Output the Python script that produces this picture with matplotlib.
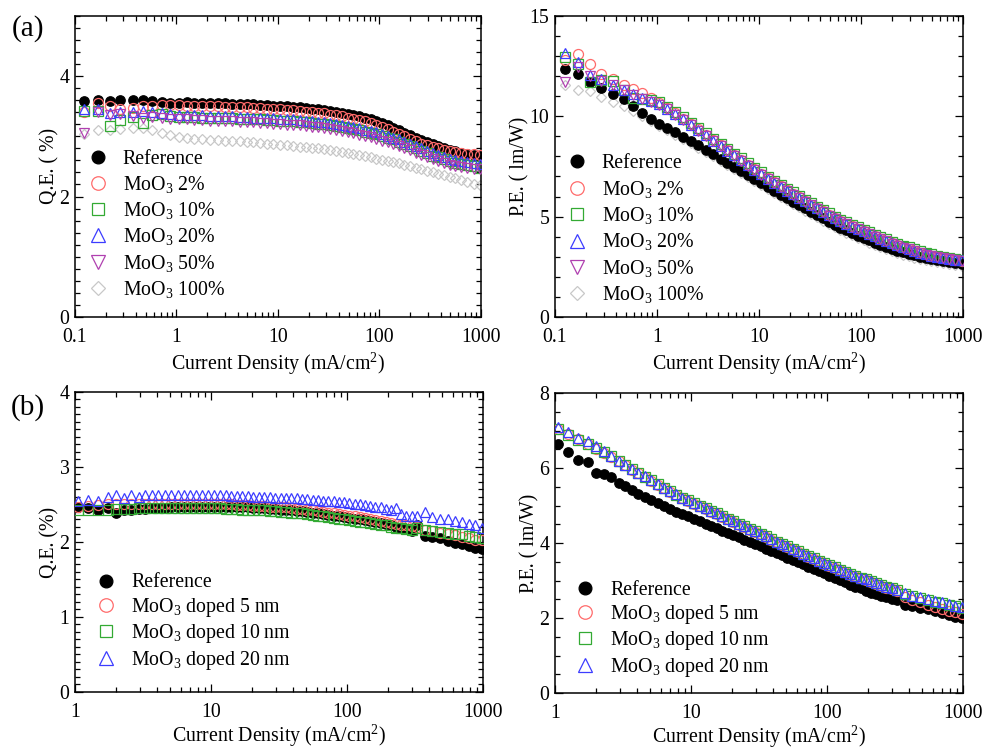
import matplotlib.pyplot as plt
from matplotlib.ticker import MultipleLocator, LogLocator, NullFormatter

plt.rcParams['font.family'] = ['Liberation Serif', 'DejaVu Serif']
plt.rcParams['mathtext.fontset'] = 'custom'
plt.rcParams['mathtext.rm'] = 'Liberation Serif'
plt.rcParams['mathtext.it'] = 'Liberation Serif:italic'
plt.rcParams['mathtext.bf'] = 'Liberation Serif:bold'

# (a) MoO3 doping concentration series, current density in mA/cm^2
j_a = [0.124, 0.167, 0.22, 0.28, 0.37, 0.47, 0.58, 0.72, 0.87, 1.05,
       1.26, 1.5, 1.8, 2.15, 2.55, 3.0, 3.55, 4.2, 4.9, 5.7,
       6.7, 7.8, 9.0, 10.5, 12.2, 14.1, 16.3, 18.8, 21.6, 24.8,
       28.5, 32.6, 37.3, 42.6, 48.6, 55.4, 63, 72, 82, 93,
       106, 120, 136, 155, 176, 200, 227, 258, 293, 333,
       378, 430, 490, 560, 640, 735, 845, 970]

qe_a_ref = [3.58, 3.60, 3.59, 3.60, 3.61, 3.61, 3.59, 3.57, 3.56, 3.56,
            3.57, 3.56, 3.56, 3.55, 3.55, 3.55, 3.54, 3.54, 3.53, 3.53,
            3.52, 3.52, 3.51, 3.50, 3.50, 3.49, 3.48, 3.47, 3.46, 3.45,
            3.44, 3.42, 3.41, 3.39, 3.37, 3.35, 3.33, 3.31, 3.28, 3.25,
            3.22, 3.18, 3.14, 3.10, 3.06, 3.02, 2.98, 2.94, 2.90, 2.87,
            2.84, 2.81, 2.78, 2.75, 2.73, 2.71, 2.69, 2.68]
qe_a_2 = [3.40, 3.56, 3.50, 3.45, 3.47, 3.50, 3.50, 3.52, 3.52, 3.52,
          3.51, 3.51, 3.51, 3.50, 3.50, 3.49, 3.49, 3.48, 3.48, 3.47,
          3.47, 3.46, 3.45, 3.45, 3.44, 3.43, 3.42, 3.41, 3.40, 3.39,
          3.38, 3.36, 3.35, 3.33, 3.31, 3.29, 3.27, 3.25, 3.22, 3.19,
          3.16, 3.12, 3.08, 3.04, 3.00, 2.96, 2.92, 2.88, 2.85, 2.82,
          2.80, 2.78, 2.76, 2.74, 2.72, 2.71, 2.70, 2.69]
qe_a_10 = [3.42, 3.42, 3.17, 3.27, 3.32, 3.22, 3.36, 3.37, 3.33, 3.32,
           3.32, 3.32, 3.31, 3.31, 3.31, 3.30, 3.30, 3.29, 3.29, 3.28,
           3.28, 3.27, 3.27, 3.26, 3.25, 3.25, 3.24, 3.23, 3.22, 3.21,
           3.20, 3.19, 3.17, 3.16, 3.14, 3.12, 3.10, 3.08, 3.06, 3.04,
           3.01, 2.98, 2.95, 2.91, 2.88, 2.84, 2.80, 2.76, 2.72, 2.68,
           2.65, 2.62, 2.59, 2.56, 2.54, 2.52, 2.50, 2.48]
qe_a_20 = [3.45, 3.45, 3.38, 3.40, 3.41, 3.42, 3.40, 3.38, 3.37, 3.36,
           3.36, 3.35, 3.35, 3.34, 3.34, 3.33, 3.33, 3.32, 3.32, 3.31,
           3.31, 3.30, 3.30, 3.29, 3.28, 3.28, 3.27, 3.26, 3.25, 3.24,
           3.23, 3.22, 3.20, 3.19, 3.17, 3.15, 3.13, 3.11, 3.09, 3.07,
           3.04, 3.01, 2.98, 2.95, 2.91, 2.88, 2.84, 2.80, 2.76, 2.72,
           2.69, 2.66, 2.63, 2.61, 2.59, 2.57, 2.55, 2.54]
qe_a_50 = [3.06, 3.40, 3.35, 3.37, 3.33, 3.30, 3.32, 3.30, 3.29, 3.28,
           3.28, 3.27, 3.27, 3.26, 3.26, 3.25, 3.25, 3.24, 3.24, 3.23,
           3.22, 3.22, 3.21, 3.20, 3.19, 3.19, 3.18, 3.17, 3.16, 3.15,
           3.13, 3.12, 3.10, 3.09, 3.07, 3.05, 3.03, 3.01, 2.99, 2.96,
           2.93, 2.90, 2.87, 2.84, 2.80, 2.77, 2.73, 2.69, 2.65, 2.62,
           2.59, 2.56, 2.53, 2.51, 2.49, 2.47, 2.46, 2.45]
qe_a_100 = [3.04, 3.10, 3.10, 3.12, 3.14, 3.13, 3.10, 3.05, 3.02, 2.99,
            2.97, 2.96, 2.95, 2.94, 2.94, 2.93, 2.93, 2.92, 2.91, 2.90,
            2.89, 2.88, 2.87, 2.86, 2.85, 2.84, 2.83, 2.82, 2.81, 2.80,
            2.79, 2.77, 2.76, 2.74, 2.73, 2.71, 2.69, 2.67, 2.65, 2.63,
            2.61, 2.59, 2.57, 2.55, 2.52, 2.50, 2.48, 2.46, 2.43, 2.41,
            2.38, 2.36, 2.33, 2.30, 2.27, 2.24, 2.21, 2.19]

pe_a_ref = [12.36, 12.1, 11.7, 11.4, 11.1, 10.84, 10.5, 10.15, 9.85,
            9.62, 9.41, 9.20, 8.98, 8.76, 8.55, 8.33, 8.11, 7.89, 7.68,
            7.48, 7.27, 7.07, 6.87, 6.66, 6.46, 6.28, 6.10, 5.92, 5.75,
            5.58, 5.41, 5.24, 5.07, 4.91, 4.75, 4.59, 4.45, 4.31, 4.18,
            4.05, 3.93, 3.81, 3.70, 3.59, 3.49, 3.39, 3.30, 3.22, 3.14,
            3.07, 3.00, 2.94, 2.88, 2.83, 2.78, 2.73, 2.69, 2.65]
pe_a_2 = [12.8, 13.1, 12.6, 12.1, 11.85, 11.55, 11.35, 11.15, 10.9,
          10.66, 10.41, 10.15, 9.88, 9.61, 9.35, 9.09, 8.83, 8.57, 8.32,
          8.08, 7.83, 7.59, 7.36, 7.13, 6.90, 6.70, 6.51, 6.32, 6.14,
          5.96, 5.78, 5.60, 5.43, 5.26, 5.09, 4.93, 4.78, 4.64, 4.51,
          4.38, 4.26, 4.13, 4.01, 3.89, 3.78, 3.67, 3.56, 3.46, 3.37,
          3.28, 3.20, 3.12, 3.05, 2.99, 2.93, 2.88, 2.84, 2.80]
pe_a_10 = [12.97, 12.6, 11.7, 11.8, 11.75, 11.3, 10.9, 10.85, 10.8,
           10.72, 10.47, 10.21, 9.94, 9.67, 9.41, 9.15, 8.89, 8.63, 8.39,
           8.14, 7.90, 7.66, 7.43, 7.20, 6.97, 6.77, 6.58, 6.39, 6.21,
           6.03, 5.85, 5.67, 5.50, 5.33, 5.16, 5.00, 4.85, 4.71, 4.58,
           4.46, 4.34, 4.22, 4.10, 3.98, 3.86, 3.75, 3.65, 3.55, 3.46,
           3.37, 3.28, 3.20, 3.13, 3.06, 3.00, 2.94, 2.89, 2.85]
pe_a_20 = [13.17, 12.72, 12.08, 11.85, 11.55, 11.3, 11.1, 10.9, 10.75,
           10.62, 10.37, 10.11, 9.84, 9.57, 9.31, 9.05, 8.79, 8.53, 8.29,
           8.05, 7.80, 7.56, 7.34, 7.10, 6.87, 6.68, 6.49, 6.30, 6.12,
           5.94, 5.76, 5.58, 5.41, 5.24, 5.07, 4.91, 4.77, 4.63, 4.50,
           4.38, 4.26, 4.14, 4.02, 3.90, 3.78, 3.67, 3.57, 3.47, 3.38,
           3.29, 3.21, 3.13, 3.06, 3.00, 2.94, 2.89, 2.85, 2.82]
pe_a_50 = [11.72, 12.47, 12.0, 11.75, 11.55, 11.3, 11.05, 10.85, 10.7,
           10.58, 10.34, 10.08, 9.81, 9.54, 9.28, 9.02, 8.76, 8.50, 8.26,
           8.02, 7.77, 7.53, 7.31, 7.07, 6.85, 6.66, 6.47, 6.28, 6.10,
           5.92, 5.74, 5.56, 5.39, 5.22, 5.05, 4.89, 4.75, 4.61, 4.48,
           4.36, 4.24, 4.12, 4.00, 3.88, 3.76, 3.65, 3.55, 3.45, 3.36,
           3.27, 3.19, 3.11, 3.04, 2.98, 2.92, 2.87, 2.83, 2.80]
pe_a_100 = [11.56, 11.3, 11.26, 10.98, 10.7, 10.5, 10.25, 10.0, 9.75,
            9.52, 9.30, 9.09, 8.87, 8.65, 8.44, 8.22, 8.00, 7.78, 7.57,
            7.37, 7.16, 6.96, 6.76, 6.55, 6.35, 6.17, 5.99, 5.81, 5.64,
            5.47, 5.30, 5.13, 4.96, 4.80, 4.64, 4.48, 4.34, 4.20, 4.07,
            3.94, 3.82, 3.70, 3.59, 3.48, 3.38, 3.28, 3.19, 3.11, 3.03,
            2.96, 2.89, 2.83, 2.77, 2.72, 2.67, 2.62, 2.58, 2.54]

labels_a = ['Reference', r'MoO$_3$ 2%', r'MoO$_3$ 10%', r'MoO$_3$ 20%',
            r'MoO$_3$ 50%', r'MoO$_3$ 100%']

# (b) MoO3 doped layer thickness series
j_b = [1.05, 1.25, 1.48, 1.75, 2.0, 2.3, 2.6, 2.95, 3.3, 3.7,
       4.1, 4.6, 5.1, 5.7, 6.3, 7.0, 7.8, 8.6, 9.5, 10.5,
       11.6, 12.8, 14.1, 15.5, 17.0, 18.7, 20.5, 22.5, 24.7, 27.1,
       29.7, 32.5, 35.6, 39, 42.7, 46.7, 51, 56, 61, 67,
       73, 80, 87, 95, 104, 114, 124, 136, 148, 162,
       177, 193, 211, 230, 251, 274, 299, 326, 375, 425,
       480, 555, 620, 700, 790, 880, 980]

qe_b_ref = [2.46, 2.45, 2.42, 2.45, 2.39, 2.43, 2.43, 2.44, 2.44, 2.45,
            2.45, 2.45, 2.46, 2.46, 2.46, 2.46, 2.46, 2.46, 2.46, 2.46,
            2.46, 2.46, 2.46, 2.46, 2.46, 2.46, 2.45, 2.45, 2.45, 2.44,
            2.44, 2.43, 2.43, 2.42, 2.41, 2.41, 2.40, 2.39, 2.38, 2.37,
            2.36, 2.35, 2.34, 2.33, 2.32, 2.31, 2.30, 2.29, 2.28, 2.27,
            2.25, 2.24, 2.22, 2.20, 2.19, 2.17, 2.15, 2.22, 2.08, 2.06,
            2.05, 2.01, 1.99, 1.97, 1.94, 1.92, 1.90]
qe_b_5 = [2.47, 2.48, 2.49, 2.50, 2.50, 2.50, 2.51, 2.51, 2.51, 2.51,
          2.51, 2.51, 2.51, 2.51, 2.51, 2.51, 2.51, 2.51, 2.50, 2.50,
          2.50, 2.50, 2.50, 2.49, 2.49, 2.49, 2.48, 2.48, 2.48, 2.47,
          2.47, 2.46, 2.46, 2.45, 2.44, 2.44, 2.43, 2.42, 2.41, 2.40,
          2.39, 2.38, 2.37, 2.36, 2.35, 2.34, 2.33, 2.32, 2.30, 2.29,
          2.28, 2.26, 2.25, 2.24, 2.23, 2.22, 2.21, 2.20, 2.16, 2.14,
          2.12, 2.10, 2.09, 2.07, 2.05, 2.03, 2.02]
qe_b_10 = [2.43, 2.43, 2.43, 2.43, 2.44, 2.44, 2.44, 2.45, 2.45, 2.45,
           2.45, 2.45, 2.45, 2.45, 2.45, 2.45, 2.45, 2.45, 2.45, 2.45,
           2.45, 2.44, 2.44, 2.44, 2.43, 2.43, 2.43, 2.42, 2.42, 2.41,
           2.41, 2.40, 2.40, 2.39, 2.38, 2.38, 2.37, 2.36, 2.35, 2.34,
           2.33, 2.32, 2.31, 2.30, 2.29, 2.28, 2.27, 2.26, 2.25, 2.24,
           2.23, 2.22, 2.20, 2.19, 2.18, 2.17, 2.16, 2.18, 2.16, 2.15,
           2.13, 2.12, 2.11, 2.10, 2.08, 2.06, 2.05]
qe_b_20 = [2.55, 2.56, 2.55, 2.60, 2.62, 2.59, 2.62, 2.60, 2.62, 2.62,
           2.62, 2.62, 2.62, 2.62, 2.62, 2.62, 2.62, 2.62, 2.62, 2.62,
           2.62, 2.62, 2.61, 2.61, 2.61, 2.61, 2.60, 2.60, 2.60, 2.60,
           2.59, 2.59, 2.59, 2.58, 2.58, 2.57, 2.57, 2.56, 2.56, 2.55,
           2.55, 2.54, 2.53, 2.53, 2.52, 2.51, 2.50, 2.49, 2.48, 2.47,
           2.47, 2.44, 2.43, 2.45, 2.37, 2.35, 2.34, 2.35, 2.40, 2.33,
           2.31, 2.30, 2.28, 2.26, 2.24, 2.22, 2.19]

pe_b_ref = [6.63, 6.43, 6.21, 6.16, 5.86, 5.84, 5.75, 5.60, 5.52, 5.42,
            5.32, 5.23, 5.14, 5.06, 4.98, 4.91, 4.84, 4.77, 4.71, 4.64,
            4.58, 4.52, 4.45, 4.39, 4.33, 4.27, 4.21, 4.15, 4.09, 4.03,
            3.97, 3.91, 3.85, 3.79, 3.73, 3.67, 3.61, 3.55, 3.49, 3.43,
            3.37, 3.31, 3.25, 3.19, 3.13, 3.07, 3.01, 2.95, 2.89, 2.84,
            2.79, 2.73, 2.68, 2.63, 2.59, 2.55, 2.51, 2.48, 2.35, 2.31,
            2.28, 2.24, 2.20, 2.14, 2.08, 2.04, 2.00]
pe_b_5 = [7.03, 6.92, 6.78, 6.65, 6.52, 6.41, 6.30, 6.18, 6.07, 5.96,
          5.86, 5.76, 5.66, 5.56, 5.46, 5.37, 5.28, 5.19, 5.12, 5.05,
          4.98, 4.91, 4.84, 4.77, 4.70, 4.63, 4.56, 4.49, 4.43, 4.36,
          4.29, 4.23, 4.16, 4.09, 4.02, 3.96, 3.89, 3.83, 3.76, 3.70,
          3.64, 3.57, 3.51, 3.45, 3.39, 3.33, 3.27, 3.22, 3.16, 3.11,
          3.06, 3.01, 2.96, 2.91, 2.86, 2.81, 2.77, 2.72, 2.55, 2.48,
          2.42, 2.36, 2.30, 2.25, 2.20, 2.15, 2.11]
pe_b_10 = [7.05, 6.88, 6.74, 6.64, 6.53, 6.42, 6.31, 6.19, 6.08, 5.97,
           5.87, 5.77, 5.67, 5.57, 5.47, 5.38, 5.29, 5.21, 5.14, 5.07,
           5.00, 4.93, 4.86, 4.79, 4.72, 4.65, 4.58, 4.51, 4.45, 4.38,
           4.31, 4.25, 4.18, 4.11, 4.04, 3.98, 3.91, 3.85, 3.78, 3.72,
           3.66, 3.59, 3.53, 3.47, 3.41, 3.35, 3.29, 3.24, 3.18, 3.13,
           3.08, 3.03, 2.98, 2.93, 2.88, 2.83, 2.79, 2.74, 2.63, 2.58,
           2.53, 2.48, 2.44, 2.40, 2.35, 2.31, 2.27]
pe_b_20 = [7.10, 6.95, 6.80, 6.72, 6.60, 6.45, 6.33, 6.20, 6.09, 5.98,
           5.88, 5.78, 5.68, 5.58, 5.48, 5.39, 5.30, 5.21, 5.14, 5.07,
           5.00, 4.93, 4.86, 4.79, 4.72, 4.65, 4.58, 4.51, 4.45, 4.38,
           4.31, 4.25, 4.18, 4.11, 4.04, 3.98, 3.91, 3.85, 3.78, 3.72,
           3.66, 3.59, 3.53, 3.47, 3.41, 3.35, 3.29, 3.24, 3.18, 3.13,
           3.08, 3.03, 2.98, 2.93, 2.88, 2.83, 2.79, 2.76, 2.66, 2.60,
           2.55, 2.50, 2.46, 2.42, 2.37, 2.33, 2.30]

labels_b = ['Reference', r'MoO$_3$ doped 5 nm', r'MoO$_3$ doped 10 nm',
            r'MoO$_3$ doped 20 nm']

# marker styles: (marker, face, edge, size, zorder)
styles = [('o', 'black', 'black', 6.8, 3),
          ('o', 'none', '#ff6b6b', 7.2, 4),
          ('s', 'none', '#33aa33', 6.8, 4),
          ('^', 'none', '#3c3cff', 7.2, 4),
          ('v', 'none', '#b040b0', 7.2, 4),
          ('D', 'none', '#c8c8c8', 5.3, 2)]

fs = 14.3


def draw(ax, x, series, labels):
    for y, lab, st in zip(series, labels, styles):
        m, fc, ec, ms, z = st
        ax.plot(x, y, linestyle='none', marker=m, mfc=fc, mec=ec, ms=ms,
                mew=0.9, label=lab, zorder=z)


def style_axis(ax, xlim, xticks, ylim, ymaj, ymin, ylabel, xpad=3):
    ax.set_xscale('log')
    ax.set_xlim(xlim)
    ax.set_ylim(ylim)
    ax.set_xticks(xticks)
    ax.set_xticklabels([('%g' % t) for t in xticks])
    ax.xaxis.set_minor_locator(LogLocator(base=10, subs=range(2, 10)))
    ax.xaxis.set_minor_formatter(NullFormatter())
    ax.yaxis.set_major_locator(MultipleLocator(ymaj))
    ax.yaxis.set_minor_locator(MultipleLocator(ymin))
    ax.tick_params(which='both', direction='in', top=True, right=True,
                   labelsize=fs, width=0.9)
    ax.tick_params(which='major', length=6)
    ax.tick_params(axis='x', which='major', pad=8)
    ax.tick_params(axis='y', which='major', pad=4)
    ax.tick_params(which='minor', length=3.5)
    for s in ax.spines.values():
        s.set_linewidth(1.1)
    ax.set_xlabel(r'Current Density (mA/cm$^2$)', fontsize=fs, labelpad=xpad)
    ax.set_ylabel(ylabel, fontsize=fs, labelpad=0)


def add_legend(ax, x0, y0, sp):
    ax.legend(loc='upper left', bbox_to_anchor=(x0, y0), frameon=False,
              fontsize=fs, numpoints=1, markerscale=1.35, handlelength=1.2,
              handletextpad=0.66, labelspacing=sp, borderpad=0,
              borderaxespad=0)


fig = plt.figure(figsize=(9.84, 7.51), dpi=100)
ax1 = fig.add_axes([0.0762, 0.578, 0.4126, 0.4008])
ax2 = fig.add_axes([0.564, 0.578, 0.4146, 0.4008])
ax3 = fig.add_axes([0.0762, 0.0786, 0.4146, 0.3995])
ax4 = fig.add_axes([0.564, 0.0772, 0.4146, 0.3995])

draw(ax1, j_a, [qe_a_ref, qe_a_2, qe_a_10, qe_a_20, qe_a_50, qe_a_100], labels_a)
draw(ax2, j_a, [pe_a_ref, pe_a_2, pe_a_10, pe_a_20, pe_a_50, pe_a_100], labels_a)
draw(ax3, j_b, [qe_b_ref, qe_b_5, qe_b_10, qe_b_20], labels_b)
draw(ax4, j_b, [pe_b_ref, pe_b_5, pe_b_10, pe_b_20], labels_b)

style_axis(ax1, (0.1, 1000), [0.1, 1, 10, 100, 1000], (0, 5), 2, 0.2, 'Q.E. ( %)')
style_axis(ax2, (0.1, 1000), [0.1, 1, 10, 100, 1000], (0, 15), 5, 1, 'P.E. ( lm/W)')
style_axis(ax3, (1, 1000), [1, 10, 100, 1000], (0, 4), 1, 0.1, 'Q.E. (%)', xpad=0.5)
style_axis(ax4, (1, 1000), [1, 10, 100, 1000], (0, 8), 2, 0.5, 'P.E. ( lm/W)', xpad=0.5)

add_legend(ax1, 0.027, 0.555, 0.26)
add_legend(ax2, 0.024, 0.54, 0.27)
add_legend(ax3, 0.047, 0.395, 0.17)
add_legend(ax4, 0.045, 0.375, 0.17)

fig.text(0.028, 0.962, '(a)', fontsize=21, ha='center', va='center')
fig.text(0.028, 0.457, '(b)', fontsize=21, ha='center', va='center')

fig.savefig('out.png', dpi=100)
